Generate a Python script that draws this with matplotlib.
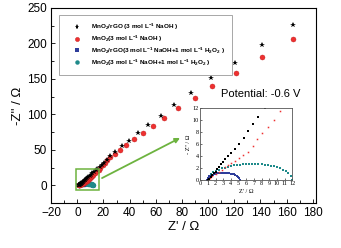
import numpy as np
import matplotlib
matplotlib.use('Agg')
import matplotlib.pyplot as plt
from matplotlib.patches import Rectangle

plt.rcParams['font.family'] = 'Liberation Sans'
plt.rcParams['mathtext.default'] = 'regular'

# MnO2/rGO in 3 mol/L NaOH (black stars)
rgo_x = [1.0, 1.2, 1.4, 1.6, 1.8, 2.0, 2.25, 2.5, 2.75, 3.0, 3.3, 3.6, 4.0, 4.5, 5.0, 5.65, 6.25, 6.9, 7.6,
         8.5, 9.4, 10.4, 11.5, 12.7, 14.0, 15.4, 17.0, 18.7, 20.6, 22.6,
         24.9, 29.0, 33.9, 39.8, 46.7, 54.3, 63.8, 74.2, 86.7, 102.0, 120.2, 141.0, 165.1]
rgo_y = [0.0, 0.25, 0.5, 0.8, 1.1, 1.4, 1.8, 2.2, 2.6, 3.0, 3.45, 3.95, 4.5, 5.1, 6.0, 7.05, 8.15, 9.3, 10.45,
         12.1, 13.5, 15.0, 16.8, 18.8, 21.0, 23.4, 26.0, 28.9, 32.0, 36.4,
         41.3, 47.5, 55.4, 63.0, 73.2, 84.5, 98.0, 112.7, 130.5, 151.0, 172.0, 197.6, 226.0]

# MnO2 in 3 mol/L NaOH (red circles)
mno_x = [1.0, 1.3, 1.6, 2.0, 2.4, 2.8, 3.2, 3.6, 4.0, 4.5, 5.0, 5.6, 6.2, 6.87, 7.47, 8.1, 8.78, 9.56, 10.35,
         11.2, 12.3, 13.5, 14.8, 16.2, 17.7, 19.4, 21.2, 23.0,
         24.9, 28.7, 32.8, 37.4, 43.2, 49.9, 57.8, 66.2, 77.2, 89.7, 103.0, 121.5, 141.3, 165.1]
mno_y = [0.0, 0.3, 0.6, 1.0, 1.4, 1.75, 2.1, 2.45, 2.8, 3.25, 3.7, 4.2, 4.7, 5.7, 6.8, 7.9, 8.9, 10.1, 11.55,
         13.0, 15.0, 17.2, 19.6, 22.2, 25.0, 28.2, 31.8, 35.5,
         39.4, 44.6, 50.3, 56.3, 64.8, 73.2, 83.5, 95.3, 108.5, 123.0, 139.4, 157.7, 180.7, 206.6]

# MnO2/rGO in NaOH + H2O2 (blue squares)
rgo_h_x = [0.9, 1.0, 1.1, 1.2, 1.35, 1.5, 1.65, 1.8, 2.0, 2.2, 2.4, 2.6, 2.8, 3.0, 3.2, 3.4, 3.6, 3.8,
           4.0, 4.2, 4.4, 4.6, 4.8, 4.95, 5.1, 5.2]
rgo_h_y = [0.0, 0.36, 0.5, 0.61, 0.73, 0.83, 0.91, 0.98, 1.05, 1.1, 1.14, 1.17, 1.19, 1.2, 1.2, 1.18, 1.16, 1.12,
           1.08, 1.01, 0.93, 0.83, 0.7, 0.56, 0.36, 0.0]

# MnO2 in NaOH + H2O2 (teal circles)
mno_h_x = [1.0, 1.2, 1.4, 1.7, 2.0, 2.4, 2.8, 3.2, 3.6, 4.0, 4.4, 4.8, 5.2, 5.6, 6.0, 6.4, 6.8, 7.2,
           7.6, 8.0, 8.4, 8.8, 9.2, 9.6, 10.0, 10.4, 10.8, 11.2, 11.5, 11.8, 12.0]
mno_h_y = [0.0, 0.69, 0.97, 1.27, 1.49, 1.73, 1.93, 2.09, 2.22, 2.34, 2.43, 2.51, 2.58, 2.63, 2.66, 2.69, 2.7, 2.7,
           2.68, 2.65, 2.59, 2.52, 2.42, 2.31, 2.16, 1.98, 1.75, 1.46, 1.18, 0.75, 0.0]

labels = ['MnO$_2$/rGO (3 mol L$^{-1}$ NaOH )',
          'MnO$_2$(3 mol L$^{-1}$ NaOH )',
          'MnO$_2$/rGO(3 mol L$^{-1}$ NaOH+1 mol L$^{-1}$ H$_2$O$_2$ )',
          'MnO$_2$(3 mol L$^{-1}$ NaOH+1 mol L$^{-1}$ H$_2$O$_2$ )']

blue = '#2e3d9a'
teal = '#1f8a8a'
red = '#ee3030'
green = '#6db33f'

fig = plt.figure(figsize=(3.41, 2.48), dpi=100)
ax = fig.add_axes([0.150, 0.181, 0.777, 0.787])

ax.plot(mno_h_x, mno_h_y, 'o', color=teal, ms=3.8, mew=0, label=labels[3])
ax.plot(rgo_h_x, rgo_h_y, 's', color=blue, ms=3.0, mew=0, label=labels[2])
ax.plot(mno_x, mno_y, 'o', color=red, mec='#c02020', mew=0.3, ms=3.6, label=labels[1])
ax.plot(rgo_x, rgo_y, '*', color='black', ms=4.3, mew=0, label=labels[0])

ax.set_xlim(-20, 182.5)
ax.set_ylim(-25, 250)
ax.set_xticks(np.arange(-20, 181, 20))
ax.set_yticks(np.arange(0, 251, 50))
ax.set_xticks(np.arange(-10, 181, 20), minor=True)
ax.set_yticks(np.arange(-25, 251, 25), minor=True)
ax.tick_params(direction='in', labelsize=8.5, length=3, width=0.6, pad=3)
ax.tick_params(which='minor', direction='in', length=2, width=0.6)
for s in ax.spines.values():
    s.set_linewidth(0.8)
ax.set_xlabel("Z' / \u03a9", fontsize=9.5, labelpad=1)
ax.set_ylabel("-Z'' / \u03a9", fontsize=9.5, labelpad=2)

handles, labs = ax.get_legend_handles_labels()
leg = ax.legend(handles[::-1], labs[::-1], loc='upper left', bbox_to_anchor=(0.03, 0.965),
                borderaxespad=0, prop={'weight': 'bold', 'size': 4.6},
                labelspacing=0.25, handletextpad=0.5, handlelength=3.4, borderpad=1.1,
                fancybox=False, edgecolor='#999999', framealpha=1, markerscale=0.85)
leg.get_frame().set_linewidth(0.6)

ax.text(110, 129, 'Potential: -0.6 V', fontsize=8, va='center')

ax.add_patch(Rectangle((-1.3, -6.6), 17.6, 29.1, fill=False, edgecolor=green, lw=1.1, zorder=5))
ax.annotate('', xy=(80.4, 68.6), xytext=(17, 8.5),
            arrowprops=dict(arrowstyle='-|>', color=green, lw=1.3, mutation_scale=7))

# inset zoom of the high-frequency region
ins = fig.add_axes([0.587, 0.274, 0.270, 0.290])
ins.plot(mno_h_x, mno_h_y, 's', color=teal, ms=1.6, mew=0)
ins.plot(rgo_h_x, rgo_h_y, 's', color=blue, ms=2.0, mew=0)
ins.plot(mno_x, mno_y, 's', color=red, ms=1.1, mew=0)
ins.plot(rgo_x, rgo_y, 's', color='black', ms=1.5, mew=0)
ins.set_xlim(0, 12)
ins.set_ylim(0, 12)
ins.set_xticks(np.arange(0, 13, 1))
ins.set_yticks(np.arange(0, 13, 2))
ins.tick_params(direction='in', length=1.5, width=0.4, pad=1, labelsize=4.4)
for t in ins.get_xticklabels() + ins.get_yticklabels():
    t.set_fontfamily('Liberation Serif')
for s in ins.spines.values():
    s.set_linewidth(0.6)
    s.set_color('#555555')
ins.set_xlabel("Z' / \u03a9", fontsize=4.5, family='Liberation Serif', labelpad=1.5)
ins.set_ylabel("- Z'' / \u03a9", fontsize=4.5, family='Liberation Serif', labelpad=1)

plt.savefig('out.png', dpi=100)
